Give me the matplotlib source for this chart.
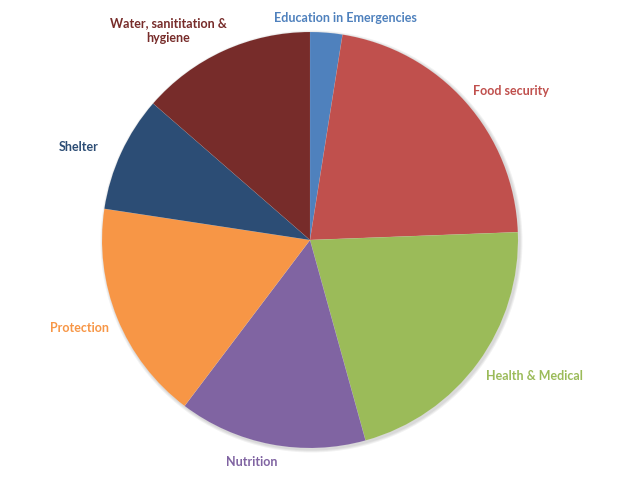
import matplotlib
matplotlib.use("Agg")
import matplotlib.pyplot as plt
from matplotlib.patches import Circle
import numpy as np

categories = ["Education in Emergencies", "Food security", "Health & Medical",
              "Nutrition", "Protection", "Shelter", "Water, sanititation &\nhygiene"]
values = [2.5, 21.9, 21.3, 14.6, 17.1, 9.0, 13.6]
colors = ["#4F81BD", "#C0504D", "#9BBB59", "#8064A2", "#F79646", "#2C4D75", "#772C2A"]

# label placement (polar: angle in degrees, radius in px) - layout only
label_polar = [(81, 226), (36.7, 251), (-31, 262), (-104.7, 228),
               (-159.3, 246), (158, 250), (124, 254)]

W, H = 632, 481
fig = plt.figure(figsize=(W / 100, H / 100), dpi=100)
ax = fig.add_axes([0, 0, 1, 1])
cx, cy = 310, 241
ax.set_xlim(-cx, W - cx)
ax.set_ylim(-(H - cy), cy)
ax.set_aspect("equal")
ax.axis("off")

R = 208
# soft shadow
for i, a in enumerate([0.05, 0.05, 0.05]):
    ax.add_patch(Circle((1.5, -1.5), R + 1 + i, color="black", alpha=a, zorder=0, lw=0))

ax.pie(values, colors=colors, startangle=90, counterclock=False, radius=R,
       center=(0, 0), wedgeprops=dict(linewidth=0.3, edgecolor=(1, 1, 1, 0.15)),
       frame=True)
ax.set_xlim(-cx, W - cx)
ax.set_ylim(-(H - cy), cy)
ax.axis("off")

for lab, col, (ang, r) in zip(categories, colors, label_polar):
    t = np.deg2rad(ang)
    ax.text(r * np.cos(t), r * np.sin(t), lab, color=col, fontsize=9,
            fontweight="bold", family=["Lato", "DejaVu Sans"],
            ha="center", va="center", linespacing=1.25)

fig.savefig("out.png", dpi=100)
